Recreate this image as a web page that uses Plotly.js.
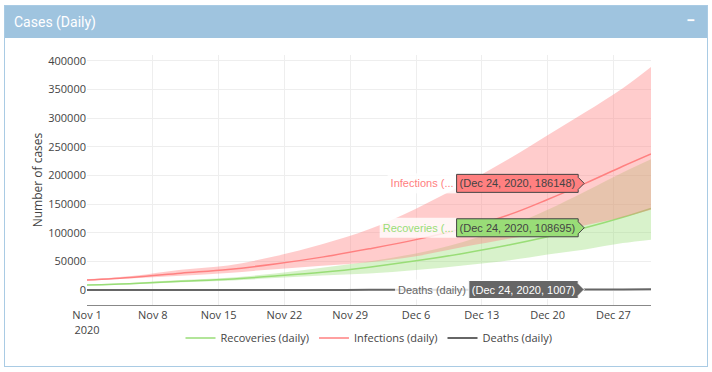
<!DOCTYPE html>
<html><head><meta charset="utf-8">
<script src="https://cdn.plot.ly/plotly-3.0.1.min.js"></script>
<style>
html,body{margin:0;padding:0;background:#fff;width:712px;height:372px;overflow:hidden;}
#panel{position:absolute;left:4px;top:5px;width:704px;height:362px;border:1px solid #a9cbe4;box-sizing:border-box;}
#hdr{position:absolute;left:5px;top:6px;width:702px;height:32px;background:#9fc4df;color:#fff;font-family:Roboto,"Open Sans",sans-serif;font-size:14px;line-height:32px;}
#hdr .t{position:absolute;left:9px;top:0;}
#hdr .m{position:absolute;right:12px;top:-1px;font-size:16px;font-weight:bold;}
#chart{position:absolute;left:6px;top:39px;width:700px;height:326px;}
</style></head>
<body>
<div id="panel"></div>
<div id="hdr"><span class="t">Cases (Daily)</span><span class="m">−</span></div>
<div id="chart"></div>
<script>
const dates = ['2020-11-01','2020-11-06','2020-11-11','2020-11-16','2020-11-21','2020-11-26','2020-12-01','2020-12-06','2020-12-11','2020-12-16','2020-12-20','2020-12-24','2020-12-28','2020-12-31'];
const infections      = [17500, 22500, 29500, 36000, 45500, 57500, 72000, 88000, 107500, 132000, 158000, 186148, 216000, 237500];
const infectionsUpper = [18800, 25000, 35500, 43000, 59000, 80000, 106000, 142000, 184000, 230000, 270000, 310000, 352000, 389000];
const infectionsLower = [16500, 20500, 25000, 30000, 36500, 42500, 48500, 59000, 75000, 90000, 101000, 113000, 127000, 140000];
const recoveries      = [8700, 11500, 15500, 19000, 24500, 31000, 40000, 51000, 64000, 79000, 93000, 108695, 127000, 142500];
const recoveriesUpper = [9500, 12800, 17500, 21500, 29000, 39000, 50000, 64000, 84000, 112000, 140000, 172000, 205000, 228000];
const recoveriesLower = [8000, 10300, 13500, 16300, 21000, 25500, 29000, 35000, 43000, 52000, 62000, 71000, 82000, 88000];
const deaths      = [90, 120, 160, 200, 250, 320, 400, 500, 600, 730, 860, 1007, 1160, 1290];
const deathsUpper = [110, 150, 200, 260, 330, 420, 530, 660, 800, 970, 1140, 1330, 1530, 1700];
const deathsLower = [70, 95, 125, 155, 190, 240, 300, 370, 450, 540, 640, 750, 860, 960];
const hoverDate = '2020-12-24';

const cRec = 'rgb(153,221,119)', cInf = 'rgb(255,128,128)', cDea = 'rgb(102,102,102)';
function band(y, fill, color){
  return {x: dates, y: y, mode:'lines', line:{width:0, shape:'spline', color: color}, fill: fill ? 'tonexty':'none',
          fillcolor: color, showlegend:false, hoverinfo:'skip'};
}
function main(y, name, color, w){
  return {x: dates, y: y, name: name, mode:'lines', line:{width:w, shape:'spline', color: color}};
}
const traces = [
  band(recoveriesLower, false, 'rgba(153,221,119,0.38)'),
  band(recoveriesUpper, true, 'rgba(153,221,119,0.38)'),
  main(recoveries, 'Recoveries (daily)', cRec, 1.5),
  band(infectionsLower, false, 'rgba(255,128,128,0.4)'),
  band(infectionsUpper, true, 'rgba(255,128,128,0.4)'),
  main(infections, 'Infections (daily)', cInf, 1.5),
  band(deathsLower, false, 'rgba(102,102,102,0.3)'),
  band(deathsUpper, true, 'rgba(102,102,102,0.3)'),
  main(deaths, 'Deaths (daily)', cDea, 2)
];
const layout = {
  width:700, height:326,
  margin:{l:81, r:55, t:16, b:60},
  paper_bgcolor:'#fff', plot_bgcolor:'#fff',
  font:{family:'"Open Sans", verdana, arial, sans-serif', size:11, color:'#444'},
  hovermode:'closest',
  hoverlabel:{font:{size:11}},
  xaxis:{type:'date', range:['2020-11-01','2020-12-31'], tick0:'2020-11-01', dtick:7*86400000,
         showgrid:true, gridcolor:'#eee', showline:true, linecolor:'#888', linewidth:1, zeroline:false, automargin:false},
  yaxis:{range:[-26000, 410000], dtick:50000, tickformat:'d', hoverformat:'d', gridcolor:'#eee', zeroline:false,
         automargin:false, title:{text:'Number of cases', font:{size:12}}},
  legend:{orientation:'h', traceorder:'normal', x:0.5, xanchor:'center', yref:'container', y:0.083, yanchor:'middle', font:{size:11}}
};
const gd = document.getElementById('chart');
Plotly.newPlot(gd, traces, layout, {displayModeBar:false}).then(function(){
  const idx = dates.indexOf(hoverDate);
  Plotly.Fx.hover(gd, [{curveNumber:2, pointNumber:idx},{curveNumber:5, pointNumber:idx},{curveNumber:8, pointNumber:idx}], 'xy');
});
</script>
</body></html>
